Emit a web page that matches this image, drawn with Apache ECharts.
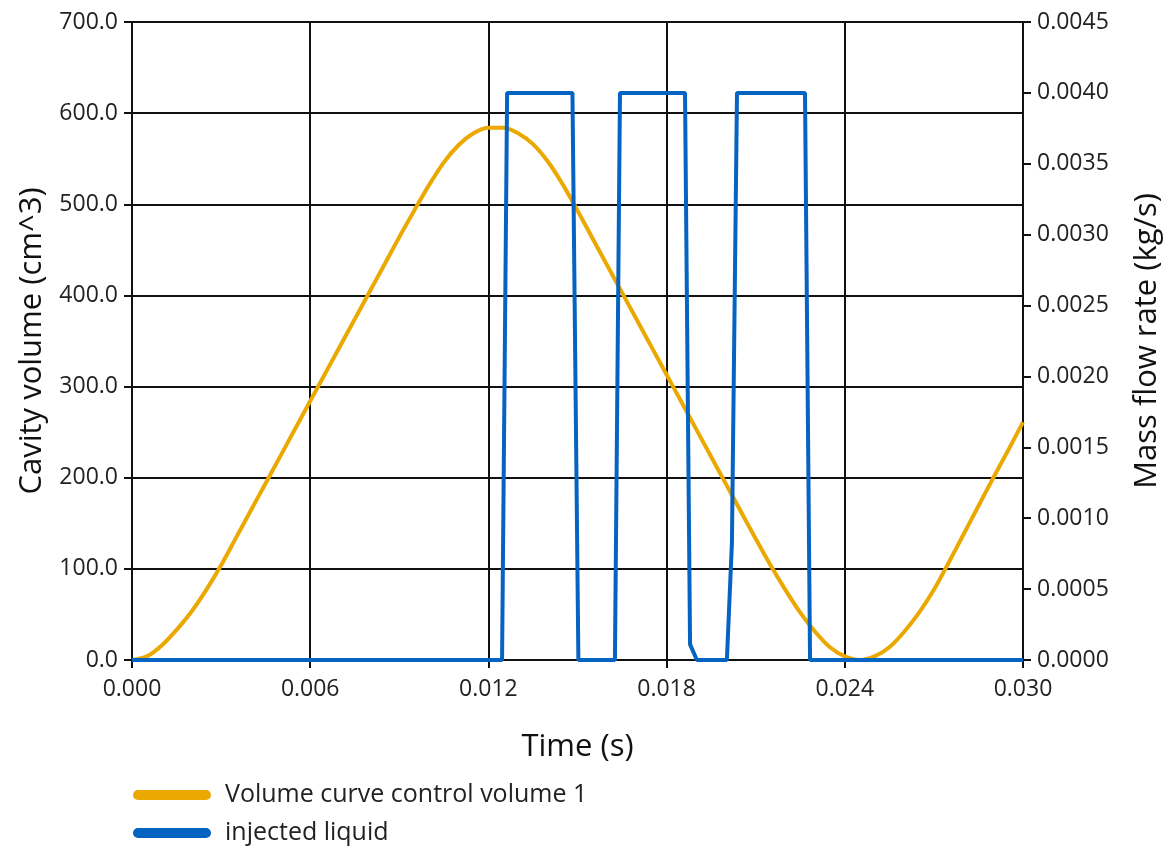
<!DOCTYPE html>
<html>
<head>
<meta charset="utf-8">
<script src="https://cdn.jsdelivr.net/npm/echarts@6/dist/echarts.min.js"></script>
<style>
  html, body { margin: 0; padding: 0; background: #ffffff; }
  #chart { width: 1172px; height: 852px; }
</style>
</head>
<body>
<div id="chart"></div>
<script>
// Time samples (s) for the cavity volume curve
const volumeTime = [
  0.0000, 0.0005, 0.0010, 0.0015, 0.0020, 0.0025, 0.0030, 0.0035, 0.0040, 0.0045,
  0.0050, 0.0055, 0.0060, 0.0065, 0.0070, 0.0075, 0.0080, 0.0085, 0.0090, 0.0095,
  0.0100, 0.0105, 0.0110, 0.0115, 0.0120, 0.0125, 0.0130, 0.0135, 0.0140, 0.0145,
  0.0150, 0.0155, 0.0160, 0.0165, 0.0170, 0.0175, 0.0180, 0.0185, 0.0190, 0.0195,
  0.0200, 0.0205, 0.0210, 0.0215, 0.0220, 0.0225, 0.0230, 0.0235, 0.0240, 0.0245,
  0.0250, 0.0255, 0.0260, 0.0265, 0.0270, 0.0275, 0.0280, 0.0285, 0.0290, 0.0295,
  0.0300
];
// Cavity volume (cm^3) at each time sample
const volumeValues = [
  0, 4, 16, 33, 53, 77, 104, 134, 164, 194,
  224, 254, 284, 314, 344, 374, 404, 434, 464, 493,
  521, 546, 565, 578, 584, 584, 578, 566, 547, 522,
  493, 463, 433, 403, 373, 343, 313, 283, 253, 223,
  193, 163, 133, 104, 77, 52, 31, 14, 4, 0,
  4, 14, 31, 52, 77, 107, 138, 169, 200, 230,
  261
];
// Injected liquid mass flow rate (kg/s): breakpoints of the pulse train
const flowTime = [
  0.0000, 0.01246, 0.01263, 0.01483, 0.01503, 0.01626, 0.01643, 0.01862,
  0.01879, 0.01902, 0.02003, 0.02020, 0.02037, 0.02266, 0.02283, 0.0300
];
const flowValues = [
  0, 0, 0.0040, 0.0040, 0, 0, 0.0040, 0.0040,
  0.00011, 0, 0, 0.00083, 0.0040, 0.0040, 0, 0
];
// Axis ranges and labels
const timeAxis = { min: 0, max: 0.030, interval: 0.006 };
const volumeAxis = { min: 0, max: 700, interval: 100 };
const flowAxis = { min: 0, max: 0.0045, interval: 0.0005 };
const seriesNames = ['Volume curve control volume 1', 'injected liquid'];

const FONT = '"Open Sans", "Noto Sans", sans-serif';
const ORANGE = '#EAA800';
const BLUE = '#0563C1';

const chart = echarts.init(document.getElementById('chart'), null, { renderer: 'canvas' });

const axisCommon = {
  axisLine: { show: true, lineStyle: { color: '#111', width: 2 } },
  axisTick: { show: true, length: 8, lineStyle: { color: '#111', width: 2 } },
  splitLine: { show: false },
  axisLabel: { color: '#222', fontFamily: FONT, fontSize: 23 },
  nameTextStyle: { color: '#111', fontFamily: FONT, fontSize: 31 }
};

chart.setOption({
  animation: false,
  backgroundColor: '#ffffff',
  grid: { left: 132, right: 149, top: 22, bottom: 192, containLabel: false },
  legend: {
    orient: 'vertical',
    left: 133,
    top: 780,
    padding: 0,
    itemWidth: 78,
    itemHeight: 11,
    itemGap: 8,
    icon: 'path://M5,0 L73,0 A5,5 0 0 1 73,10 L5,10 A5,5 0 0 1 5,0 Z',
    textStyle: { color: '#222', fontFamily: FONT, fontSize: 25, lineHeight: 30, padding: [0, 0, 0, 9] },
    data: seriesNames
  },
  xAxis: Object.assign({}, axisCommon, {
    type: 'value',
    min: timeAxis.min, max: timeAxis.max, interval: timeAxis.interval,
    name: 'Time (s)', nameLocation: 'middle', nameGap: 72,
    splitLine: { show: true, lineStyle: { color: '#111', width: 2 } },
    axisLabel: Object.assign({}, axisCommon.axisLabel, {
      margin: 18,
      formatter: v => v.toFixed(3)
    })
  }),
  yAxis: [
    Object.assign({}, axisCommon, {
      type: 'value', position: 'left',
      min: volumeAxis.min, max: volumeAxis.max, interval: volumeAxis.interval,
      name: 'Cavity volume (cm^3)', nameLocation: 'middle', nameGap: 84, nameRotate: 90,
      splitLine: { show: true, lineStyle: { color: '#111', width: 2 } },
      axisLabel: Object.assign({}, axisCommon.axisLabel, {
        margin: 14,
        formatter: v => v.toFixed(1)
      })
    }),
    Object.assign({}, axisCommon, {
      type: 'value', position: 'right',
      min: flowAxis.min, max: flowAxis.max, interval: flowAxis.interval,
      name: 'Mass flow rate (kg/s)', nameLocation: 'middle', nameGap: 109, nameRotate: 90,
      axisLabel: Object.assign({}, axisCommon.axisLabel, {
        margin: 14,
        formatter: v => v.toFixed(4)
      })
    })
  ],
  series: [
    {
      name: seriesNames[0],
      type: 'line',
      yAxisIndex: 0,
      smooth: 0.3,
      showSymbol: false,
      lineStyle: { color: ORANGE, width: 4 },
      itemStyle: { color: ORANGE },
      data: volumeTime.map((t, i) => [t, volumeValues[i]]),
      z: 2
    },
    {
      name: seriesNames[1],
      type: 'line',
      yAxisIndex: 1,
      showSymbol: false,
      lineStyle: { color: BLUE, width: 4 },
      itemStyle: { color: BLUE },
      data: flowTime.map((t, i) => [t, flowValues[i]]),
      z: 3
    }
  ]
});
</script>
</body>
</html>
